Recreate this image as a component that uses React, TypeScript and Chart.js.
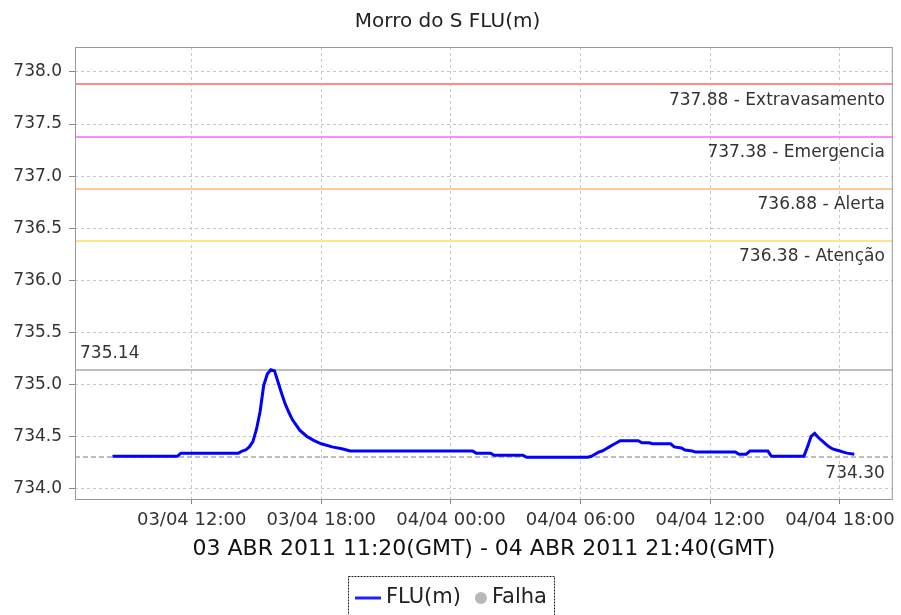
import React, { useEffect, useRef } from "react";
import { Chart, registerables } from "chart.js";

Chart.register(...registerables);

const FONT = "'DejaVu Sans', sans-serif";

const chartTitle = "Morro do S FLU(m)";
const xAxisTitle = "03 ABR 2011 11:20(GMT) - 04 ABR 2011 21:40(GMT)";
const seriesName = "FLU(m)";
const failureName = "Falha";

const times: string[] = [
  "03/04 08:20", "03/04 11:20", "03/04 11:30", "03/04 14:10", "03/04 14:20",
  "03/04 14:30", "03/04 14:40", "03/04 14:50", "03/04 15:00", "03/04 15:10",
  "03/04 15:20", "03/04 15:30", "03/04 15:40", "03/04 15:50", "03/04 16:00",
  "03/04 16:10", "03/04 16:20", "03/04 16:30", "03/04 16:40", "03/04 17:00",
  "03/04 17:20", "03/04 17:40", "03/04 18:00", "03/04 18:30", "03/04 19:00",
  "03/04 19:20", "04/04 01:00", "04/04 01:10", "04/04 01:50", "04/04 02:00",
  "04/04 03:20", "04/04 03:30", "04/04 06:20", "04/04 06:30", "04/04 06:40",
  "04/04 06:50", "04/04 07:00", "04/04 07:10", "04/04 07:20", "04/04 07:30",
  "04/04 07:40", "04/04 07:50", "04/04 08:40", "04/04 08:50", "04/04 09:10",
  "04/04 09:20", "04/04 10:10", "04/04 10:20", "04/04 10:40", "04/04 10:50",
  "04/04 11:10", "04/04 11:20", "04/04 13:10", "04/04 13:20", "04/04 13:40",
  "04/04 13:50", "04/04 14:40", "04/04 14:50", "04/04 16:20", "04/04 16:30",
  "04/04 16:40", "04/04 16:50", "04/04 17:00", "04/04 17:10", "04/04 17:20",
  "04/04 17:30", "04/04 17:40", "04/04 17:50", "04/04 18:00", "04/04 18:10",
  "04/04 18:20", "04/04 18:40",
];

const levels: number[] = [
  734.31, 734.31, 734.34, 734.34, 734.36,
  734.37, 734.40, 734.45, 734.57, 734.74,
  734.99, 735.10, 735.14, 735.13, 735.02,
  734.91, 734.81, 734.73, 734.66, 734.56,
  734.50, 734.46, 734.43, 734.40, 734.38,
  734.36, 734.36, 734.34, 734.34, 734.32,
  734.32, 734.30, 734.30, 734.31, 734.33,
  734.35, 734.36, 734.38, 734.40, 734.42,
  734.44, 734.46, 734.46, 734.44, 734.44,
  734.43, 734.43, 734.40, 734.39, 734.37,
  734.36, 734.35, 734.35, 734.33, 734.33,
  734.36, 734.36, 734.31, 734.31, 734.40,
  734.50, 734.53, 734.49, 734.46, 734.43,
  734.40, 734.38, 734.37, 734.36, 734.35,
  734.34, 734.33,
];

const xTickTimes = ["03/04 12:00", "03/04 18:00", "04/04 00:00", "04/04 06:00", "04/04 12:00", "04/04 18:00"];
const yTickValues = [734.0, 734.5, 735.0, 735.5, 736.0, 736.5, 737.0, 737.5, 738.0];
const xRange = ["03/04 06:36", "04/04 20:27"];
const yRange = [733.89, 738.24];

const thresholdValues = [737.88, 737.38, 736.88, 736.38];
const thresholdNames = ["Extravasamento", "Emergencia", "Alerta", "Atenção"];
const thresholdColors = ["#ff8c8c", "#ff8cff", "#ffc896", "#ffe48a"];

function toHours(t: string): number {
  const [d, hm] = t.split(" ");
  const day = parseInt(d.slice(0, 2), 10);
  const [h, m] = hm.split(":").map(Number);
  return (day - 3) * 24 + h + m / 60;
}

const overlayPlugin = {
  id: "overlay",
  beforeDatasetsDraw(chart: any) {
    const { ctx, chartArea: a, scales } = chart;
    const y = scales.y;
    ctx.save();
    ctx.beginPath();
    ctx.rect(a.left, a.top, a.right - a.left, a.bottom - a.top);
    ctx.clip();
    ctx.lineWidth = 2;
    thresholdValues.forEach((v, i) => {
      const py = Math.round(y.getPixelForValue(v));
      ctx.strokeStyle = thresholdColors[i];
      ctx.beginPath();
      ctx.moveTo(a.left, py);
      ctx.lineTo(a.right, py);
      ctx.stroke();
    });
    const maxV = Math.max(...levels);
    const minV = Math.min(...levels);
    ctx.strokeStyle = "#a8a8a8";
    ctx.lineWidth = 1.5;
    let py = Math.round(y.getPixelForValue(maxV));
    ctx.beginPath();
    ctx.moveTo(a.left, py);
    ctx.lineTo(a.right, py);
    ctx.stroke();
    ctx.setLineDash([5, 3]);
    py = Math.round(y.getPixelForValue(minV));
    ctx.beginPath();
    ctx.moveTo(a.left, py);
    ctx.lineTo(a.right, py);
    ctx.stroke();
    ctx.restore();
  },
  afterDatasetsDraw(chart: any) {
    const { ctx, chartArea: a, scales } = chart;
    const y = scales.y;
    ctx.save();
    ctx.font = `17px ${FONT}`;
    ctx.fillStyle = "#333";
    ctx.textBaseline = "middle";
    ctx.textAlign = "right";
    thresholdValues.forEach((v, i) => {
      const py = y.getPixelForValue(v);
      ctx.fillText(`${v.toFixed(2)} - ${thresholdNames[i]}`, a.right - 8, py + 16);
    });
    const maxV = Math.max(...levels);
    const minV = Math.min(...levels);
    ctx.textAlign = "left";
    ctx.fillText(maxV.toFixed(2), a.left + 5, y.getPixelForValue(maxV) - 16);
    ctx.textAlign = "right";
    ctx.fillText(minV.toFixed(2), a.right - 8, y.getPixelForValue(minV) + 16);
    ctx.strokeStyle = "#999";
    ctx.lineWidth = 1;
    ctx.strokeRect(a.left + 0.5, a.top + 0.5, a.right - a.left - 1, a.bottom - a.top - 1);
    ctx.restore();
  },
  afterDraw(chart: any) {
    const ctx = chart.ctx;
    ctx.save();
    ctx.font = `21px ${FONT}`;
    const w1 = ctx.measureText(seriesName).width;
    const w2 = ctx.measureText(failureName).width;
    const pad = 7, lineLen = 26, gap1 = 5, gap2 = 14, circleD = 12, gap3 = 5;
    const total = pad + lineLen + gap1 + w1 + gap2 + circleD + gap3 + w2 + pad;
    const left = Math.round(451 - total / 2);
    const top = 576;
    const cy = 598;
    ctx.strokeStyle = "#222";
    ctx.lineWidth = 1;
    ctx.setLineDash([2, 1]);
    ctx.strokeRect(left + 0.5, top + 0.5, Math.round(total), 60);
    ctx.setLineDash([]);
    let x = left + pad;
    ctx.strokeStyle = "#2020ff";
    ctx.lineWidth = 3;
    ctx.beginPath();
    ctx.moveTo(x, cy);
    ctx.lineTo(x + lineLen, cy);
    ctx.stroke();
    x += lineLen + gap1;
    ctx.fillStyle = "#222";
    ctx.textBaseline = "middle";
    ctx.textAlign = "left";
    ctx.fillText(seriesName, x, cy);
    x += w1 + gap2;
    ctx.fillStyle = "#b8b8b8";
    ctx.beginPath();
    ctx.arc(x + circleD / 2, cy, circleD / 2, 0, Math.PI * 2);
    ctx.fill();
    x += circleD + gap3;
    ctx.fillStyle = "#222";
    ctx.fillText(failureName, x, cy);
    ctx.restore();
  },
};

export default function App() {
  const ref = useRef<HTMLCanvasElement | null>(null);
  useEffect(() => {
    if (!ref.current) return;
    const points = times.map((t, i) => ({ x: toHours(t), y: levels[i] }));
    const xTickHours = xTickTimes.map(toHours);
    const gridCommon = {
      color: "#c8c8c8",
      lineWidth: 1,
      borderDash: [3, 3],
      drawTicks: true,
      tickColor: "#888",
      tickBorderDash: [],
      tickWidth: 1,
    };
    const chart = new Chart(ref.current, {
      type: "line",
      data: {
        datasets: [
          {
            label: seriesName,
            data: points,
            borderColor: "#0000ff",
            backgroundColor: "#0000ff",
            borderWidth: 3,
            pointRadius: 0,
            tension: 0,
            fill: false,
          },
          {
            label: failureName,
            data: [],
            borderColor: "#b8b8b8",
            backgroundColor: "#b8b8b8",
            showLine: false,
          },
        ],
      },
      options: {
        responsive: false,
        animation: false,
        devicePixelRatio: 1,
        layout: { padding: { top: 0, right: 6, bottom: 40, left: 0 } },
        plugins: {
          legend: { display: false },
          tooltip: { enabled: false },
          title: {
            display: true,
            text: chartTitle,
            color: "#222",
            font: { family: FONT, size: 20, weight: "normal" },
            padding: { top: 10, bottom: 13 },
          },
        },
        scales: {
          x: {
            type: "linear",
            min: toHours(xRange[0]),
            max: toHours(xRange[1]),
            afterBuildTicks: (s: any) => {
              s.ticks = xTickHours.map((v) => ({ value: v }));
            },
            afterFit: (s: any) => {
              s.height = 75;
            },
            ticks: {
              autoSkip: false,
              maxRotation: 0,
              padding: 6,
              color: "#333",
              font: { family: FONT, size: 18 },
              callback: (_v: any, i: number) => xTickTimes[i],
            },
            grid: { ...gridCommon, tickLength: 4 },
            border: { display: false, dash: [3, 3] },
            title: {
              display: true,
              text: xAxisTitle,
              color: "#111",
              font: { family: FONT, size: 22 },
              padding: { top: 0, bottom: 13 },
            },
          },
          y: {
            type: "linear",
            min: yRange[0],
            max: yRange[1],
            afterBuildTicks: (s: any) => {
              s.ticks = yTickValues.map((v) => ({ value: v }));
            },
            afterFit: (s: any) => {
              s.width = 75;
            },
            ticks: {
              padding: 7,
              color: "#333",
              font: { family: FONT, size: 17 },
              callback: (v: any) => Number(v).toFixed(1),
            },
            grid: { ...gridCommon, tickLength: 6 },
            border: { display: false, dash: [3, 3] },
          },
        },
      },
      plugins: [overlayPlugin],
    } as any);
    return () => chart.destroy();
  }, []);
  return (
    <div style={{ position: "fixed", left: 0, top: 0, width: 901, height: 615, background: "#fff" }}>
      <canvas ref={ref} width={901} height={615} style={{ display: "block" }} />
    </div>
  );
}
